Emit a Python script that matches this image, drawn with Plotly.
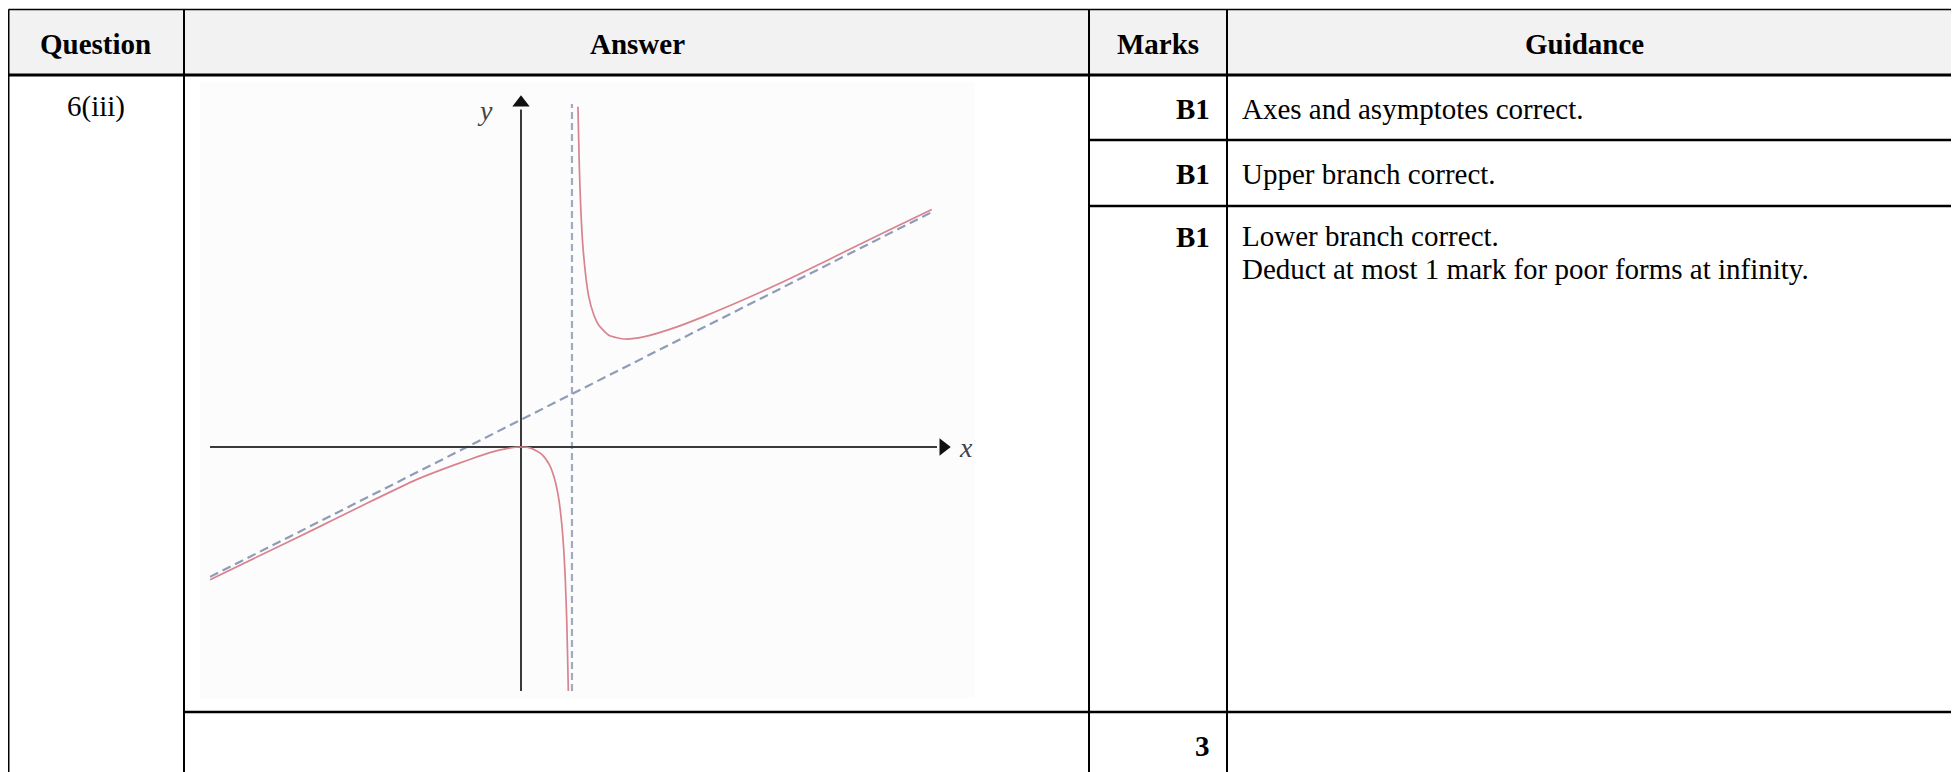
import plotly.graph_objects as go

# ---------------- data ----------------
headers = ["Question", "Answer", "Marks", "Guidance"]
question = "6(iii)"
marks = ["B1", "B1", "B1"]
guidance = ["Axes and asymptotes correct.",
            "Upper branch correct.",
            "Lower branch correct.",
            "Deduct at most 1 mark for poor forms at infinity."]
total_mark = "3"

# sketch curve: upper branch (x, y)
upper_x = [1.095, 1.12, 1.15, 1.2, 1.3, 1.4, 1.5, 1.7, 2.0, 2.4, 3.0, 3.5, 4.0, 5.0, 6.0, 7.0, 7.9]
upper_y = [12.6, 10.5, 8.8, 7.2, 5.6, 4.9, 4.5, 4.13, 4.0, 4.1, 4.45, 4.82, 5.22, 6.08, 7.02, 7.96, 8.8]
# lower branch
lower_x = [-5.98, -5.0, -4.0, -3.0, -2.0, -1.5, -1.0, -0.6, -0.3, 0.0, 0.2, 0.4, 0.55, 0.65, 0.72, 0.78, 0.82, 0.85, 0.88, 0.9, 0.91]
lower_y = [-4.92, -4.0, -3.07, -2.12, -1.2, -0.82, -0.47, -0.21, -0.07, 0.0, -0.05, -0.27, -0.67, -1.21, -1.85, -2.77, -3.74, -4.82, -6.45, -8.1, -9.04]
# asymptotes
vasym_x = [0.98, 0.98]
vasym_y = [-9.04, 12.7]
sasym_x = [-5.98, 7.90]
sasym_y = [-4.81, 8.70]
# coordinate axes of the sketch
xaxis_line_x = [-5.98, 8.0]
xaxis_line_y = [0, 0]
yaxis_line_x = [0, 0]
yaxis_line_y = [-9.04, 12.5]

# ---------------- layout geometry (page pixels) ----------------
W, H = 1959, 772
OFF = 8  # page body margin
col_x = [8.5, 184, 1089, 1227, 1980]
top_y, head_y = 9.5, 75
row_y = [140, 206]
thick_y = 712
FONT = "Liberation Serif, Times New Roman, serif"
FS = 29

fig = go.Figure()

curve_col = "#d8838e"
asym_col = "#8f9cb8"
fig.add_trace(go.Scatter(x=sasym_x, y=sasym_y, mode="lines", xaxis="x2", yaxis="y2",
                         line=dict(color=asym_col, width=2.2, dash="9px,5px"), hoverinfo="skip"))
fig.add_trace(go.Scatter(x=vasym_x, y=vasym_y, mode="lines", xaxis="x2", yaxis="y2",
                         line=dict(color="#a0abc0", width=2.2, dash="7px,4px"), hoverinfo="skip"))
fig.add_trace(go.Scatter(x=xaxis_line_x, y=xaxis_line_y, mode="lines", xaxis="x2", yaxis="y2",
                         line=dict(color="#3a3a3a", width=2), hoverinfo="skip"))
fig.add_trace(go.Scatter(x=yaxis_line_x, y=yaxis_line_y, mode="lines", xaxis="x2", yaxis="y2",
                         line=dict(color="#3a3a3a", width=2), hoverinfo="skip"))
fig.add_trace(go.Scatter(x=[xaxis_line_x[1] + 0.12], y=[0], mode="markers", xaxis="x2", yaxis="y2",
                         marker=dict(symbol="triangle-right", size=15, color="#111111"), hoverinfo="skip"))
fig.add_trace(go.Scatter(x=[0], y=[yaxis_line_y[1] + 0.25], mode="markers", xaxis="x2", yaxis="y2",
                         marker=dict(symbol="triangle-up", size=15, color="#111111"), hoverinfo="skip"))
fig.add_trace(go.Scatter(x=upper_x, y=upper_y, mode="lines", xaxis="x2", yaxis="y2",
                         line=dict(color=curve_col, width=1.7, shape="spline", smoothing=0.6), hoverinfo="skip"))
fig.add_trace(go.Scatter(x=lower_x, y=lower_y, mode="lines", xaxis="x2", yaxis="y2",
                         line=dict(color=curve_col, width=1.7, shape="spline", smoothing=0.6), hoverinfo="skip"))

shapes = []
shapes.append(dict(type="rect", xref="x", yref="y", x0=col_x[0], x1=col_x[-1], y0=top_y, y1=head_y,
                    fillcolor="#f2f2f2", line=dict(width=0), layer="below"))
shapes.append(dict(type="rect", xref="x", yref="y", x0=200, x1=975, y0=82, y1=698,
                    fillcolor="#fcfcfc", line=dict(width=0), layer="below"))
lc = "#000000"
shapes.append(dict(type="line", xref="x", yref="y", x0=col_x[0], x1=col_x[-1], y0=top_y, y1=top_y,
                    line=dict(color=lc, width=1.5)))
shapes.append(dict(type="line", xref="x", yref="y", x0=col_x[0], x1=col_x[-1], y0=head_y, y1=head_y,
                    line=dict(color=lc, width=3)))
for cx in col_x[:-1]:
    shapes.append(dict(type="line", xref="x", yref="y", x0=cx, x1=cx, y0=top_y, y1=H + OFF,
                        line=dict(color=lc, width=2)))
for ry in row_y:
    shapes.append(dict(type="line", xref="x", yref="y", x0=col_x[2], x1=col_x[-1], y0=ry, y1=ry,
                        line=dict(color=lc, width=2.5)))
shapes.append(dict(type="line", xref="x", yref="y", x0=col_x[1], x1=col_x[-1], y0=thick_y, y1=thick_y,
                    line=dict(color=lc, width=2.5)))

ann = []
head_cx = [95, 637, 1158, 1584]
for h, cx in zip(headers, head_cx):
    ann.append(dict(x=cx, y=44, xref="x", yref="y", text="<b>%s</b>" % h, showarrow=False,
                    font=dict(family=FONT, size=FS, color="#000"), xanchor="center", yanchor="middle"))
ann.append(dict(x=96, y=106, xref="x", yref="y", text=question, showarrow=False,
                font=dict(family=FONT, size=FS, color="#000"), xanchor="center", yanchor="middle"))
mark_y = [109, 174, 237]
for m, my in zip(marks, mark_y):
    ann.append(dict(x=1212, y=my, xref="x", yref="y", text="<b>%s</b>" % m, showarrow=False,
                    font=dict(family=FONT, size=FS, color="#000"), xanchor="right", yanchor="middle"))
guid_y = [109, 174, 236, 269]
for g, gy in zip(guidance, guid_y):
    ann.append(dict(x=1240, y=gy, xref="x", yref="y", text=g, showarrow=False,
                    font=dict(family=FONT, size=FS, color="#000"), xanchor="left", yanchor="middle"))
ann.append(dict(x=1212, y=746, xref="x", yref="y", text="<b>%s</b>" % total_mark, showarrow=False,
                font=dict(family=FONT, size=FS, color="#000"), xanchor="right", yanchor="middle"))
ann.append(dict(x=8.55, y=0, xref="x2", yref="y2", text="<i>x</i>", showarrow=False,
                font=dict(family=FONT, size=28, color="#444"), xanchor="center", yanchor="middle"))
ann.append(dict(x=-0.69, y=12.45, xref="x2", yref="y2", text="<i>y</i>", showarrow=False,
                font=dict(family=FONT, size=28, color="#444"), xanchor="center", yanchor="middle"))

# sketch axis mapping (page px): origin (521, 447), 52 px per x unit, 27 px per y unit
gx0, gx1, gy0, gy1 = 200, 975, 82, 700
ox, oy, ux, uy = 521, 447, 52.0, 27.0

fig.update_layout(
    width=W, height=H, margin=dict(l=0, r=0, t=0, b=0),
    paper_bgcolor="white", plot_bgcolor="rgba(0,0,0,0)", showlegend=False,
    xaxis=dict(range=[OFF, W + OFF], domain=[0, 1], visible=False, fixedrange=True),
    yaxis=dict(range=[H + OFF, OFF], domain=[0, 1], visible=False, fixedrange=True),
    xaxis2=dict(range=[(gx0 - ox) / ux, (gx1 - ox) / ux],
                domain=[(gx0 - OFF) / W, (gx1 - OFF) / W],
                visible=False, anchor="y2", fixedrange=True),
    yaxis2=dict(range=[(oy - gy1) / uy, (oy - gy0) / uy],
                domain=[(H - (gy1 - OFF)) / H, (H - (gy0 - OFF)) / H],
                visible=False, anchor="x2", fixedrange=True),
    shapes=shapes, annotations=ann,
)

fig.write_html("out.html")
